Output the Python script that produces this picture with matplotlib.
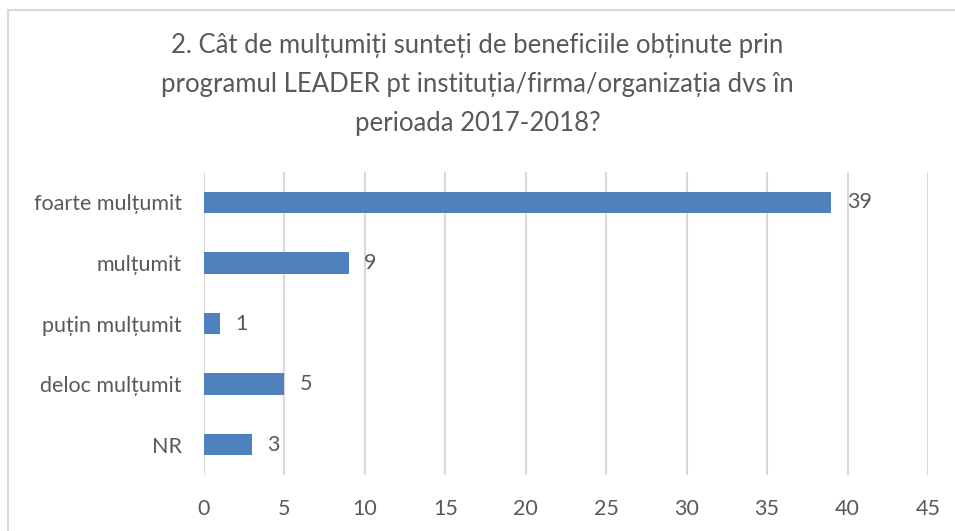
import matplotlib.pyplot as plt
from matplotlib.patches import Rectangle

plt.rcParams['font.family'] = ['Lato', 'DejaVu Sans']

categories = ["foarte mulțumit", "mulțumit", "puțin mulțumit", "deloc mulțumit", "NR"]
values = [39, 9, 1, 5, 3]
xticks = [0, 5, 10, 15, 20, 25, 30, 35, 40, 45]
title = ("2. Cât de mulțumiți sunteți de beneficiile obținute prin\n"
         "programul LEADER pt instituția/firma/organizația dvs în\n"
         "perioada 2017-2018?")

txt = '#595959'
fig = plt.figure(figsize=(9.55, 5.31), dpi=100)
ax = fig.add_axes([0.2136, 0.1055, 0.7581, 0.5705])

ypos = list(range(len(categories)))
ax.barh(ypos, values, height=0.35, color='#4F81BD', zorder=3)
for y, v in zip(ypos, values):
    ax.annotate(str(v), (v, y), xytext=(11, 0), textcoords='offset points',
                va='center', ha='left', fontsize=15.5, color=txt)

ax.set_xlim(0, 45)
ax.set_ylim(len(categories) - 0.5, -0.5)
ax.set_yticks(ypos)
ax.set_yticklabels(categories)
ax.set_xticks(xticks)
ax.grid(axis='x', color='#D9D9D9', linewidth=1.5, zorder=0)
for s in ax.spines.values():
    s.set_visible(False)
ax.tick_params(length=0, labelsize=15.5, colors=txt)
ax.tick_params(axis='x', pad=17)
ax.tick_params(axis='y', pad=16)

fig.text(0.5, 0.937, title, ha='center', va='top', fontsize=18.5,
         color=txt, linespacing=1.68)

fig.patches.append(Rectangle((8 / 955, -0.1), 1.2, 1 - 10 / 531 + 0.1,
                             transform=fig.transFigure, fill=False,
                             edgecolor='#D9D9D9', linewidth=1.5))

fig.savefig('out.png', dpi=100)
